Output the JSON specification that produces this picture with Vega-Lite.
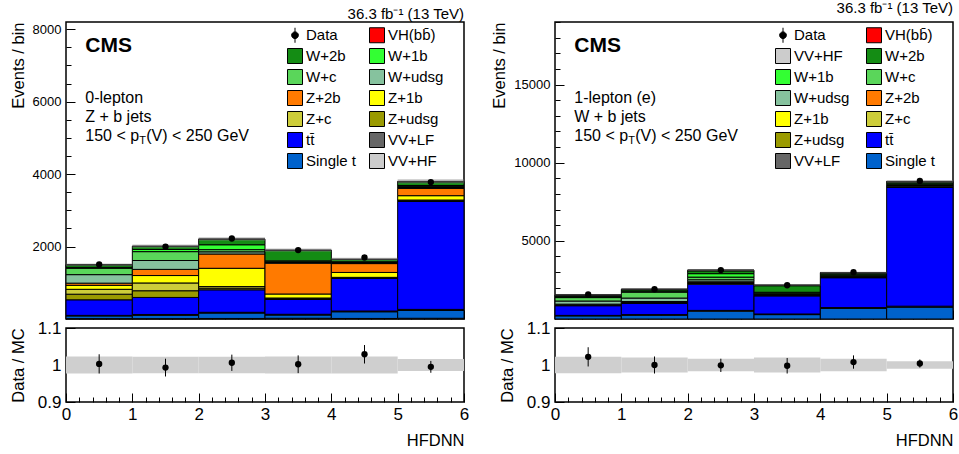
{
  "$schema": "https://vega.github.io/schema/vega-lite/v6.json",
  "padding": {"left": 9, "top": 0, "right": 4, "bottom": 2},
  "config": {
    "font": "Liberation Sans",
    "view": {"stroke": "black", "strokeWidth": 1.5},
    "axis": {"domain": false, "grid": false, "tickColor": "black", "tickWidth": 1, "labelColor": "black", "titleColor": "black", "labelFont": "Liberation Sans", "titleFont": "Liberation Sans", "titleFontWeight": "normal", "titleFontSize": 16.5, "labelFontSize": 13, "labelFlush": false, "labelOverlap": false, "tickCount": 100},
    "title": {"font": "Liberation Sans", "fontWeight": "normal", "color": "black", "fontSize": 15}
  },
  "datasets": {
    "orderL": [{"p":"VV+HF","o":0},{"p":"Single t","o":1},{"p":"VV+LF","o":2},{"p":"tt\u0304","o":3},{"p":"Z+udsg","o":4},{"p":"Z+c","o":5},{"p":"Z+1b","o":6},{"p":"Z+2b","o":7},{"p":"W+udsg","o":8},{"p":"W+c","o":9},{"p":"W+1b","o":10},{"p":"W+2b","o":11},{"p":"VH(bb\u0304)","o":12}],
    "orderR": [{"p":"Single t","o":0},{"p":"VV+LF","o":1},{"p":"tt\u0304","o":2},{"p":"Z+udsg","o":3},{"p":"Z+c","o":4},{"p":"Z+1b","o":5},{"p":"Z+2b","o":6},{"p":"W+udsg","o":7},{"p":"W+c","o":8},{"p":"W+1b","o":9},{"p":"W+2b","o":10},{"p":"VV+HF","o":11},{"p":"VH(bb\u0304)","o":12}],
    "zL": [
      {"lo":0,"hi":1,"p":"VV+HF","v":10},{"lo":0,"hi":1,"p":"Single t","v":75},{"lo":0,"hi":1,"p":"VV+LF","v":15},{"lo":0,"hi":1,"p":"tt\u0304","v":430},{"lo":0,"hi":1,"p":"Z+udsg","v":155},{"lo":0,"hi":1,"p":"Z+c","v":135},{"lo":0,"hi":1,"p":"Z+1b","v":110},{"lo":0,"hi":1,"p":"Z+2b","v":60},{"lo":0,"hi":1,"p":"W+udsg","v":235},{"lo":0,"hi":1,"p":"W+c","v":175},{"lo":0,"hi":1,"p":"W+1b","v":25},{"lo":0,"hi":1,"p":"W+2b","v":70},{"lo":0,"hi":1,"p":"VH(bb\u0304)","v":5},
      {"lo":1,"hi":2,"p":"VV+HF","v":10},{"lo":1,"hi":2,"p":"Single t","v":90},{"lo":1,"hi":2,"p":"VV+LF","v":25},{"lo":1,"hi":2,"p":"tt\u0304","v":470},{"lo":1,"hi":2,"p":"Z+udsg","v":185},{"lo":1,"hi":2,"p":"Z+c","v":215},{"lo":1,"hi":2,"p":"Z+1b","v":205},{"lo":1,"hi":2,"p":"Z+2b","v":170},{"lo":1,"hi":2,"p":"W+udsg","v":245},{"lo":1,"hi":2,"p":"W+c","v":245},{"lo":1,"hi":2,"p":"W+1b","v":60},{"lo":1,"hi":2,"p":"W+2b","v":85},{"lo":1,"hi":2,"p":"VH(bb\u0304)","v":5},
      {"lo":2,"hi":3,"p":"VV+HF","v":15},{"lo":2,"hi":3,"p":"Single t","v":150},{"lo":2,"hi":3,"p":"VV+LF","v":20},{"lo":2,"hi":3,"p":"tt\u0304","v":620},{"lo":2,"hi":3,"p":"Z+udsg","v":45},{"lo":2,"hi":3,"p":"Z+c","v":45},{"lo":2,"hi":3,"p":"Z+1b","v":505},{"lo":2,"hi":3,"p":"Z+2b","v":395},{"lo":2,"hi":3,"p":"W+udsg","v":60},{"lo":2,"hi":3,"p":"W+c","v":60},{"lo":2,"hi":3,"p":"W+1b","v":135},{"lo":2,"hi":3,"p":"W+2b","v":150},{"lo":2,"hi":3,"p":"VH(bb\u0304)","v":10},
      {"lo":3,"hi":4,"p":"VV+HF","v":20},{"lo":3,"hi":4,"p":"Single t","v":90},{"lo":3,"hi":4,"p":"VV+LF","v":20},{"lo":3,"hi":4,"p":"tt\u0304","v":410},{"lo":3,"hi":4,"p":"Z+udsg","v":20},{"lo":3,"hi":4,"p":"Z+c","v":20},{"lo":3,"hi":4,"p":"Z+1b","v":110},{"lo":3,"hi":4,"p":"Z+2b","v":850},{"lo":3,"hi":4,"p":"W+udsg","v":20},{"lo":3,"hi":4,"p":"W+c","v":20},{"lo":3,"hi":4,"p":"W+1b","v":25},{"lo":3,"hi":4,"p":"W+2b","v":290},{"lo":3,"hi":4,"p":"VH(bb\u0304)","v":5},
      {"lo":4,"hi":5,"p":"VV+HF","v":15},{"lo":4,"hi":5,"p":"Single t","v":185},{"lo":4,"hi":5,"p":"VV+LF","v":20},{"lo":4,"hi":5,"p":"tt\u0304","v":900},{"lo":4,"hi":5,"p":"Z+udsg","v":15},{"lo":4,"hi":5,"p":"Z+c","v":15},{"lo":4,"hi":5,"p":"Z+1b","v":135},{"lo":4,"hi":5,"p":"Z+2b","v":245},{"lo":4,"hi":5,"p":"W+udsg","v":15},{"lo":4,"hi":5,"p":"W+c","v":15},{"lo":4,"hi":5,"p":"W+1b","v":20},{"lo":4,"hi":5,"p":"W+2b","v":65},{"lo":4,"hi":5,"p":"VH(bb\u0304)","v":5},
      {"lo":5,"hi":6,"p":"VV+HF","v":20},{"lo":5,"hi":6,"p":"Single t","v":215},{"lo":5,"hi":6,"p":"VV+LF","v":30},{"lo":5,"hi":6,"p":"tt\u0304","v":2980},{"lo":5,"hi":6,"p":"Z+udsg","v":20},{"lo":5,"hi":6,"p":"Z+c","v":20},{"lo":5,"hi":6,"p":"Z+1b","v":120},{"lo":5,"hi":6,"p":"Z+2b","v":200},{"lo":5,"hi":6,"p":"W+udsg","v":25},{"lo":5,"hi":6,"p":"W+c","v":25},{"lo":5,"hi":6,"p":"W+1b","v":30},{"lo":5,"hi":6,"p":"W+2b","v":100},{"lo":5,"hi":6,"p":"VH(bb\u0304)","v":15}
    ],
    "zR": [
      {"lo":0,"hi":1,"p":"Single t","v":200},{"lo":0,"hi":1,"p":"VV+LF","v":30},{"lo":0,"hi":1,"p":"tt\u0304","v":620},{"lo":0,"hi":1,"p":"Z+udsg","v":30},{"lo":0,"hi":1,"p":"Z+c","v":30},{"lo":0,"hi":1,"p":"Z+1b","v":20},{"lo":0,"hi":1,"p":"Z+2b","v":20},{"lo":0,"hi":1,"p":"W+udsg","v":200},{"lo":0,"hi":1,"p":"W+c","v":220},{"lo":0,"hi":1,"p":"W+1b","v":60},{"lo":0,"hi":1,"p":"W+2b","v":80},{"lo":0,"hi":1,"p":"VV+HF","v":20},{"lo":0,"hi":1,"p":"VH(bb\u0304)","v":5},
      {"lo":1,"hi":2,"p":"Single t","v":240},{"lo":1,"hi":2,"p":"VV+LF","v":40},{"lo":1,"hi":2,"p":"tt\u0304","v":720},{"lo":1,"hi":2,"p":"Z+udsg","v":30},{"lo":1,"hi":2,"p":"Z+c","v":30},{"lo":1,"hi":2,"p":"Z+1b","v":30},{"lo":1,"hi":2,"p":"Z+2b","v":30},{"lo":1,"hi":2,"p":"W+udsg","v":220},{"lo":1,"hi":2,"p":"W+c","v":380},{"lo":1,"hi":2,"p":"W+1b","v":60},{"lo":1,"hi":2,"p":"W+2b","v":90},{"lo":1,"hi":2,"p":"VV+HF","v":30},{"lo":1,"hi":2,"p":"VH(bb\u0304)","v":5},
      {"lo":2,"hi":3,"p":"Single t","v":500},{"lo":2,"hi":3,"p":"VV+LF","v":50},{"lo":2,"hi":3,"p":"tt\u0304","v":1680},{"lo":2,"hi":3,"p":"Z+udsg","v":40},{"lo":2,"hi":3,"p":"Z+c","v":40},{"lo":2,"hi":3,"p":"Z+1b","v":40},{"lo":2,"hi":3,"p":"Z+2b","v":30},{"lo":2,"hi":3,"p":"W+udsg","v":130},{"lo":2,"hi":3,"p":"W+c","v":170},{"lo":2,"hi":3,"p":"W+1b","v":220},{"lo":2,"hi":3,"p":"W+2b","v":180},{"lo":2,"hi":3,"p":"VV+HF","v":40},{"lo":2,"hi":3,"p":"VH(bb\u0304)","v":10},
      {"lo":3,"hi":4,"p":"Single t","v":280},{"lo":3,"hi":4,"p":"VV+LF","v":40},{"lo":3,"hi":4,"p":"tt\u0304","v":1160},{"lo":3,"hi":4,"p":"Z+udsg","v":20},{"lo":3,"hi":4,"p":"Z+c","v":20},{"lo":3,"hi":4,"p":"Z+1b","v":20},{"lo":3,"hi":4,"p":"Z+2b","v":20},{"lo":3,"hi":4,"p":"W+udsg","v":40},{"lo":3,"hi":4,"p":"W+c","v":50},{"lo":3,"hi":4,"p":"W+1b","v":60},{"lo":3,"hi":4,"p":"W+2b","v":420},{"lo":3,"hi":4,"p":"VV+HF","v":30},{"lo":3,"hi":4,"p":"VH(bb\u0304)","v":5},
      {"lo":4,"hi":5,"p":"Single t","v":680},{"lo":4,"hi":5,"p":"VV+LF","v":50},{"lo":4,"hi":5,"p":"tt\u0304","v":1910},{"lo":4,"hi":5,"p":"Z+udsg","v":15},{"lo":4,"hi":5,"p":"Z+c","v":15},{"lo":4,"hi":5,"p":"Z+1b","v":15},{"lo":4,"hi":5,"p":"Z+2b","v":15},{"lo":4,"hi":5,"p":"W+udsg","v":30},{"lo":4,"hi":5,"p":"W+c","v":40},{"lo":4,"hi":5,"p":"W+1b","v":60},{"lo":4,"hi":5,"p":"W+2b","v":110},{"lo":4,"hi":5,"p":"VV+HF","v":20},{"lo":4,"hi":5,"p":"VH(bb\u0304)","v":5},
      {"lo":5,"hi":6,"p":"Single t","v":760},{"lo":5,"hi":6,"p":"VV+LF","v":60},{"lo":5,"hi":6,"p":"tt\u0304","v":7600},{"lo":5,"hi":6,"p":"Z+udsg","v":20},{"lo":5,"hi":6,"p":"Z+c","v":20},{"lo":5,"hi":6,"p":"Z+1b","v":20},{"lo":5,"hi":6,"p":"Z+2b","v":20},{"lo":5,"hi":6,"p":"W+udsg","v":40},{"lo":5,"hi":6,"p":"W+c","v":50},{"lo":5,"hi":6,"p":"W+1b","v":60},{"lo":5,"hi":6,"p":"W+2b","v":110},{"lo":5,"hi":6,"p":"VV+HF","v":30},{"lo":5,"hi":6,"p":"VH(bb\u0304)","v":10}
    ],
    "uL": [
      {"lo":0,"hi":1,"ulo":1466,"uhi":1535,"rlo":0.977,"rhi":1.023},
      {"lo":1,"hi":2,"ulo":1966,"uhi":2054,"rlo":0.978,"rhi":1.022},
      {"lo":2,"hi":3,"ulo":2161,"uhi":2259,"rlo":0.978,"rhi":1.022},
      {"lo":3,"hi":4,"ulo":1856,"uhi":1944,"rlo":0.977,"rhi":1.023},
      {"lo":4,"hi":5,"ulo":1612,"uhi":1688,"rlo":0.977,"rhi":1.023},
      {"lo":5,"hi":6,"ulo":3739,"uhi":3861,"rlo":0.984,"rhi":1.016}
    ],
    "uR": [
      {"lo":0,"hi":1,"ulo":1501,"uhi":1569,"rlo":0.978,"rhi":1.022},
      {"lo":1,"hi":2,"ulo":1867,"uhi":1943,"rlo":0.98,"rhi":1.02},
      {"lo":2,"hi":3,"ulo":3077,"uhi":3183,"rlo":0.983,"rhi":1.017},
      {"lo":3,"hi":4,"ulo":2122,"uhi":2208,"rlo":0.98,"rhi":1.02},
      {"lo":4,"hi":5,"ulo":2915,"uhi":3015,"rlo":0.983,"rhi":1.017},
      {"lo":5,"hi":6,"ulo":8712,"uhi":8888,"rlo":0.99,"rhi":1.01}
    ],
    "dL": [
      {"c":0.5,"d":1505,"dlo":1466,"dhi":1544,"r":1.003,"elo":0.977,"ehi":1.029},
      {"c":1.5,"d":1996,"dlo":1951,"dhi":2041,"r":0.993,"elo":0.969,"ehi":1.017},
      {"c":2.5,"d":2223,"dlo":2176,"dhi":2270,"r":1.006,"elo":0.984,"ehi":1.028},
      {"c":3.5,"d":1904,"dlo":1860,"dhi":1948,"r":1.002,"elo":0.978,"ehi":1.026},
      {"c":4.5,"d":1698,"dlo":1657,"dhi":1739,"r":1.029,"elo":1.004,"ehi":1.054},
      {"c":5.5,"d":3781,"dlo":3720,"dhi":3842,"r":0.995,"elo":0.979,"ehi":1.011}
    ],
    "dR": [
      {"c":0.5,"d":1569,"dlo":1529,"dhi":1609,"r":1.022,"elo":0.996,"ehi":1.048},
      {"c":1.5,"d":1905,"dlo":1861,"dhi":1949,"r":1.0,"elo":0.977,"ehi":1.023},
      {"c":2.5,"d":3127,"dlo":3071,"dhi":3183,"r":0.999,"elo":0.981,"ehi":1.017},
      {"c":3.5,"d":2161,"dlo":2114,"dhi":2208,"r":0.998,"elo":0.977,"ehi":1.019},
      {"c":4.5,"d":2989,"dlo":2934,"dhi":3044,"r":1.008,"elo":0.99,"ehi":1.026},
      {"c":5.5,"d":8835,"dlo":8741,"dhi":8929,"r":1.004,"elo":0.993,"ehi":1.015}
    ]
  },
  "spacing": 21,
  "resolve": {"scale": {"color": "independent"}},
  "hconcat": [
    {
      "spacing": -3,
      "resolve": {"scale": {"color": "independent"}},
      "vconcat": [
        {
          "width": 398, "height": 297,
          "title": {"text": "36.3 fb\u207b\u00b9 (13 TeV)", "anchor": "end", "frame": "group", "fontSize": 15, "fontWeight": "normal", "offset": 0},
          "layer": [
            {
              "data": {"name": "zL"},
              "transform": [
                {"lookup": "p", "from": {"data": {"name": "orderL"}, "key": "p", "fields": ["o"]}},
                {"stack": "v", "groupby": ["lo"], "sort": [{"field": "o", "order": "ascending"}], "as": ["y0", "y1"], "offset": "zero"}
              ],
              "mark": {"type": "rect", "stroke": "black", "strokeWidth": 1},
              "encoding": {
                "x": {"field": "lo", "type": "quantitative", "scale": {"domain": [0, 6], "nice": false, "zero": false},
                      "axis": {"values": [0,0.2,0.4,0.6,0.8,1,1.2,1.4,1.6,1.8,2,2.2,2.4,2.6,2.8,3,3.2,3.4,3.6,3.8,4,4.2,4.4,4.6,4.8,5,5.2,5.4,5.6,5.8,6], "tickCount": 100, "labels": false, "title": null, "labelOverlap": false,
                               "tickSize": {"condition": {"test": "datum.value % 1 === 0", "value": -9}, "value": -5}}},
                "x2": {"field": "hi"},
                "y": {"field": "y0", "type": "quantitative", "scale": {"domain": [0, 8200], "nice": false},
                      "axis": {"values": [500,1000,1500,2000,2500,3000,3500,4000,4500,5000,5500,6000,6500,7000,7500,8000], "tickCount": 100, "format": "d", "labelOverlap": false,
                               "labelExpr": "datum.value % 2000 === 0 ? datum.label : ''", "title": "Events / bin", "titleAnchor": "end",
                               "tickSize": {"condition": {"test": "datum.value % 2000 === 0", "value": -9}, "value": -5},
                               "labelPadding": 14, "titlePadding": 6}},
                "y2": {"field": "y1"},
                "color": {"field": "p", "type": "nominal",
                          "scale": {"domain": ["Data","W+2b","W+c","Z+2b","Z+c","tt\u0304","Single t","VH(bb\u0304)","W+1b","W+udsg","Z+1b","Z+udsg","VV+LF","VV+HF"],
                                    "range": ["#000000","#148c14","#5ad65a","#ff7a00","#cdcd3a","#0000ff","#0062cc","#ff0000","#33ff33","#86c29e","#ffff00","#9a9a00","#666666","#cccccc"]},
                          "legend": {"orient": "none", "legendX": 221, "legendY": 5, "columns": 2, "title": null, "symbolType": "square", "symbolSize": 225,
                                     "symbolStrokeColor": "black", "symbolStrokeWidth": 1, "labelFontSize": 15, "labelColor": "black", "rowPadding": 1, "columnPadding": 10, "labelOffset": 3, "padding": 0,
                                     "encode": {"symbols": {"update": {"shape": {"signal": "datum.value === 'Data' ? 'M-0.45,0A0.45,0.45 0 1,1 0.45,0A0.45,0.45 0 1,1 -0.45,0ZM0,-1L0,1' : 'square'"}}}}}}
              }
            },
            {
              "data": {"name": "uL"},
              "mark": {"type": "rect", "fill": "#808080", "opacity": 0.45},
              "encoding": {"x": {"field": "lo", "type": "quantitative"}, "x2": {"field": "hi"}, "y": {"field": "ulo", "type": "quantitative"}, "y2": {"field": "uhi"}}
            },
            {
              "data": {"name": "dL"},
              "mark": {"type": "rule", "color": "black", "strokeWidth": 1},
              "encoding": {"x": {"field": "c", "type": "quantitative"}, "y": {"field": "dlo", "type": "quantitative"}, "y2": {"field": "dhi"}}
            },
            {
              "data": {"name": "dL"},
              "mark": {"type": "point", "filled": true, "color": "black", "size": 40, "opacity": 1},
              "encoding": {"x": {"field": "c", "type": "quantitative"}, "y": {"field": "d", "type": "quantitative"}}
            },
            {
              "data": {"values": [{}]},
              "mark": {"type": "text", "text": "CMS", "fontWeight": "bold", "fontSize": 21, "align": "left", "baseline": "middle", "color": "black"},
              "encoding": {"x": {"datum": 0.29}, "y": {"datum": 7535}}
            },
            {
              "data": {"values": [{}]},
              "mark": {"type": "text", "text": "0-lepton", "fontSize": 16, "align": "left", "baseline": "middle", "color": "black"},
              "encoding": {"x": {"datum": 0.29}, "y": {"datum": 6100}}
            },
            {
              "data": {"values": [{}]},
              "mark": {"type": "text", "text": "Z + b jets", "fontSize": 16, "align": "left", "baseline": "middle", "color": "black"},
              "encoding": {"x": {"datum": 0.29}, "y": {"datum": 5570}}
            },
            {
              "data": {"values": [{}]},
              "mark": {"type": "text", "text": "150 < p", "fontSize": 16, "align": "left", "baseline": "middle", "color": "black"},
              "encoding": {"x": {"datum": 0.29}, "y": {"datum": 5040}}
            },
            {
              "data": {"values": [{}]},
              "mark": {"type": "text", "text": "T", "fontSize": 11, "align": "left", "baseline": "middle", "color": "black", "dx": 54, "dy": 5},
              "encoding": {"x": {"datum": 0.29}, "y": {"datum": 5040}}
            },
            {
              "data": {"values": [{}]},
              "mark": {"type": "text", "text": "(V) < 250 GeV", "fontSize": 16, "align": "left", "baseline": "middle", "color": "black", "dx": 61},
              "encoding": {"x": {"datum": 0.29}, "y": {"datum": 5040}}
            }
          ]
        },
        {
          "width": 398, "height": 74,
          "layer": [
            {
              "data": {"name": "uL"},
              "mark": {"type": "rect", "fill": "#cfcfcf"},
              "encoding": {
                "x": {"field": "lo", "type": "quantitative", "scale": {"domain": [0, 6], "nice": false, "zero": false},
                      "axis": {"values": [0,0.2,0.4,0.6,0.8,1,1.2,1.4,1.6,1.8,2,2.2,2.4,2.6,2.8,3,3.2,3.4,3.6,3.8,4,4.2,4.4,4.6,4.8,5,5.2,5.4,5.6,5.8,6], "tickCount": 100, "labelOverlap": false,
                               "labelExpr": "datum.value % 1 === 0 ? format(datum.value, 'd') : ''", "labelFontSize": 17, "title": "HFDNN", "titleAnchor": "end",
                               "tickSize": {"condition": {"test": "datum.value % 1 === 0", "value": -9}, "value": -5}, "labelPadding": 13, "titlePadding": 6}},
                "x2": {"field": "hi"},
                "y": {"field": "rlo", "type": "quantitative", "scale": {"domain": [0.9, 1.1], "nice": false, "zero": false},
                      "axis": {"values": [0.9, 1, 1.1], "tickCount": 100, "labelOverlap": false, "labelExpr": "datum.value === 1 ? '1' : format(datum.value, '.1f')", "labelFontSize": 17,
                               "title": "Data / MC", "titleAnchor": "middle", "tickSize": -9, "labelPadding": 14, "titlePadding": 11}},
                "y2": {"field": "rhi"}
              }
            },
            {
              "data": {"name": "dL"},
              "mark": {"type": "rule", "color": "black", "strokeWidth": 1},
              "encoding": {"x": {"field": "c", "type": "quantitative"}, "y": {"field": "elo", "type": "quantitative"}, "y2": {"field": "ehi"}}
            },
            {
              "data": {"name": "dL"},
              "mark": {"type": "point", "filled": true, "color": "black", "size": 40, "opacity": 1},
              "encoding": {"x": {"field": "c", "type": "quantitative"}, "y": {"field": "r", "type": "quantitative"}}
            }
          ]
        }
      ]
    },
    {
      "spacing": -3,
      "resolve": {"scale": {"color": "independent"}},
      "vconcat": [
        {
          "width": 398, "height": 297,
          "title": {"text": "36.3 fb\u207b\u00b9 (13 TeV)", "anchor": "end", "frame": "group", "fontSize": 15, "fontWeight": "normal", "offset": 0},
          "layer": [
            {
              "data": {"name": "zR"},
              "transform": [
                {"lookup": "p", "from": {"data": {"name": "orderR"}, "key": "p", "fields": ["o"]}},
                {"stack": "v", "groupby": ["lo"], "sort": [{"field": "o", "order": "ascending"}], "as": ["y0", "y1"], "offset": "zero"}
              ],
              "mark": {"type": "rect", "stroke": "black", "strokeWidth": 1},
              "encoding": {
                "x": {"field": "lo", "type": "quantitative", "scale": {"domain": [0, 6], "nice": false, "zero": false},
                      "axis": {"values": [0,0.2,0.4,0.6,0.8,1,1.2,1.4,1.6,1.8,2,2.2,2.4,2.6,2.8,3,3.2,3.4,3.6,3.8,4,4.2,4.4,4.6,4.8,5,5.2,5.4,5.6,5.8,6], "tickCount": 100, "labels": false, "title": null, "labelOverlap": false,
                               "tickSize": {"condition": {"test": "datum.value % 1 === 0", "value": -9}, "value": -5}}},
                "x2": {"field": "hi"},
                "y": {"field": "y0", "type": "quantitative", "scale": {"domain": [0, 19000], "nice": false},
                      "axis": {"values": [1000,2000,3000,4000,5000,6000,7000,8000,9000,10000,11000,12000,13000,14000,15000,16000,17000,18000,19000], "tickCount": 100, "format": "d", "labelOverlap": false,
                               "labelExpr": "datum.value % 5000 === 0 ? datum.label : ''", "title": "Events / bin", "titleAnchor": "end",
                               "tickSize": {"condition": {"test": "datum.value % 5000 === 0", "value": -9}, "value": -5},
                               "labelPadding": 14, "titlePadding": 6}},
                "y2": {"field": "y1"},
                "color": {"field": "p", "type": "nominal",
                          "scale": {"domain": ["Data","VV+HF","W+1b","W+udsg","Z+1b","Z+udsg","VV+LF","VH(bb\u0304)","W+2b","W+c","Z+2b","Z+c","tt\u0304","Single t"],
                                    "range": ["#000000","#cccccc","#33ff33","#86c29e","#ffff00","#9a9a00","#666666","#ff0000","#148c14","#5ad65a","#ff7a00","#cdcd3a","#0000ff","#0062cc"]},
                          "legend": {"orient": "none", "legendX": 220, "legendY": 5, "columns": 2, "title": null, "symbolType": "square", "symbolSize": 225,
                                     "symbolStrokeColor": "black", "symbolStrokeWidth": 1, "labelFontSize": 15, "labelColor": "black", "rowPadding": 1, "columnPadding": 14, "labelOffset": 3, "padding": 0,
                                     "encode": {"symbols": {"update": {"shape": {"signal": "datum.value === 'Data' ? 'M-0.45,0A0.45,0.45 0 1,1 0.45,0A0.45,0.45 0 1,1 -0.45,0ZM0,-1L0,1' : 'square'"}}}}}}
              }
            },
            {
              "data": {"name": "uR"},
              "mark": {"type": "rect", "fill": "#808080", "opacity": 0.45},
              "encoding": {"x": {"field": "lo", "type": "quantitative"}, "x2": {"field": "hi"}, "y": {"field": "ulo", "type": "quantitative"}, "y2": {"field": "uhi"}}
            },
            {
              "data": {"name": "dR"},
              "mark": {"type": "rule", "color": "black", "strokeWidth": 1},
              "encoding": {"x": {"field": "c", "type": "quantitative"}, "y": {"field": "dlo", "type": "quantitative"}, "y2": {"field": "dhi"}}
            },
            {
              "data": {"name": "dR"},
              "mark": {"type": "point", "filled": true, "color": "black", "size": 40, "opacity": 1},
              "encoding": {"x": {"field": "c", "type": "quantitative"}, "y": {"field": "d", "type": "quantitative"}}
            },
            {
              "data": {"values": [{}]},
              "mark": {"type": "text", "text": "CMS", "fontWeight": "bold", "fontSize": 21, "align": "left", "baseline": "middle", "color": "black"},
              "encoding": {"x": {"datum": 0.29}, "y": {"datum": 17465}}
            },
            {
              "data": {"values": [{}]},
              "mark": {"type": "text", "text": "1-lepton (e)", "fontSize": 16, "align": "left", "baseline": "middle", "color": "black"},
              "encoding": {"x": {"datum": 0.29}, "y": {"datum": 14150}}
            },
            {
              "data": {"values": [{}]},
              "mark": {"type": "text", "text": "W + b jets", "fontSize": 16, "align": "left", "baseline": "middle", "color": "black"},
              "encoding": {"x": {"datum": 0.29}, "y": {"datum": 12920}}
            },
            {
              "data": {"values": [{}]},
              "mark": {"type": "text", "text": "150 < p", "fontSize": 16, "align": "left", "baseline": "middle", "color": "black"},
              "encoding": {"x": {"datum": 0.29}, "y": {"datum": 11700}}
            },
            {
              "data": {"values": [{}]},
              "mark": {"type": "text", "text": "T", "fontSize": 11, "align": "left", "baseline": "middle", "color": "black", "dx": 54, "dy": 5},
              "encoding": {"x": {"datum": 0.29}, "y": {"datum": 11700}}
            },
            {
              "data": {"values": [{}]},
              "mark": {"type": "text", "text": "(V) < 250 GeV", "fontSize": 16, "align": "left", "baseline": "middle", "color": "black", "dx": 61},
              "encoding": {"x": {"datum": 0.29}, "y": {"datum": 11700}}
            }
          ]
        },
        {
          "width": 398, "height": 74,
          "layer": [
            {
              "data": {"name": "uR"},
              "mark": {"type": "rect", "fill": "#cfcfcf"},
              "encoding": {
                "x": {"field": "lo", "type": "quantitative", "scale": {"domain": [0, 6], "nice": false, "zero": false},
                      "axis": {"values": [0,0.2,0.4,0.6,0.8,1,1.2,1.4,1.6,1.8,2,2.2,2.4,2.6,2.8,3,3.2,3.4,3.6,3.8,4,4.2,4.4,4.6,4.8,5,5.2,5.4,5.6,5.8,6], "tickCount": 100, "labelOverlap": false,
                               "labelExpr": "datum.value % 1 === 0 ? format(datum.value, 'd') : ''", "labelFontSize": 17, "title": "HFDNN", "titleAnchor": "end",
                               "tickSize": {"condition": {"test": "datum.value % 1 === 0", "value": -9}, "value": -5}, "labelPadding": 13, "titlePadding": 6}},
                "x2": {"field": "hi"},
                "y": {"field": "rlo", "type": "quantitative", "scale": {"domain": [0.9, 1.1], "nice": false, "zero": false},
                      "axis": {"values": [0.9, 1, 1.1], "tickCount": 100, "labelOverlap": false, "labelExpr": "datum.value === 1 ? '1' : format(datum.value, '.1f')", "labelFontSize": 17,
                               "title": "Data / MC", "titleAnchor": "middle", "tickSize": -9, "labelPadding": 14, "titlePadding": 11}},
                "y2": {"field": "rhi"}
              }
            },
            {
              "data": {"name": "dR"},
              "mark": {"type": "rule", "color": "black", "strokeWidth": 1},
              "encoding": {"x": {"field": "c", "type": "quantitative"}, "y": {"field": "elo", "type": "quantitative"}, "y2": {"field": "ehi"}}
            },
            {
              "data": {"name": "dR"},
              "mark": {"type": "point", "filled": true, "color": "black", "size": 40, "opacity": 1},
              "encoding": {"x": {"field": "c", "type": "quantitative"}, "y": {"field": "r", "type": "quantitative"}}
            }
          ]
        }
      ]
    }
  ]
}
